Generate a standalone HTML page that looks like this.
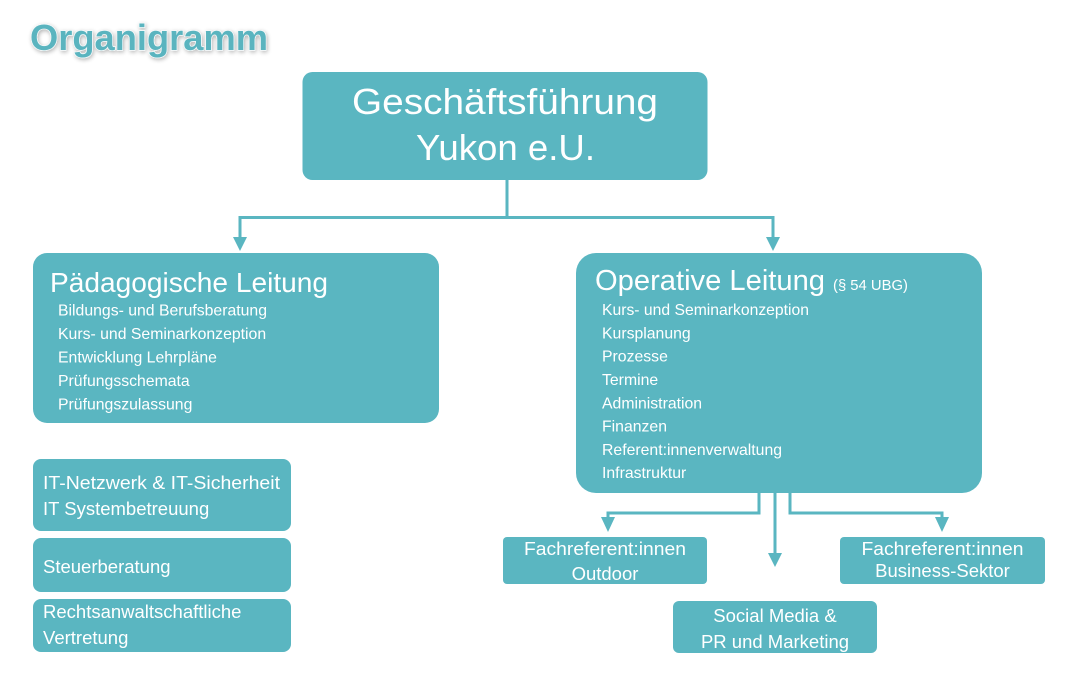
<!DOCTYPE html>
<html>
<head>
<meta charset="utf-8">
<style>
  html, body { margin: 0; padding: 0; background: #ffffff; }
  body { width: 1068px; height: 674px; overflow: hidden; }
  svg { display: block; }
  text { font-family: "Liberation Sans", "DejaVu Sans", sans-serif; }
</style>
</head>
<body>
<svg width="1068" height="674" viewBox="0 0 1068 674" xmlns="http://www.w3.org/2000/svg">
  <defs>
    <filter id="glow" x="-10%" y="-30%" width="120%" height="160%">
      <feGaussianBlur in="SourceAlpha" stdDeviation="2" result="b"/>
      <feOffset dx="1" dy="1.5" result="o"/>
      <feComponentTransfer in="o" result="s"><feFuncA type="linear" slope="0.3"/></feComponentTransfer>
      <feMerge><feMergeNode in="s"/><feMergeNode in="SourceGraphic"/></feMerge>
    </filter>
  </defs>

  <!-- Title -->
  <text x="30" y="50" font-size="36" font-weight="bold" fill="#5ab4bf" stroke="#f2f8f9" stroke-width="1.4" paint-order="stroke" filter="url(#glow)" textLength="238" lengthAdjust="spacingAndGlyphs">Organigramm</text>

  <g fill="#5ab6c1">
    <!-- Top box -->
    <rect x="302.5" y="72" width="405" height="108" rx="10" ry="10"/>
    <!-- Pädagogische -->
    <rect x="33" y="253" width="406" height="170" rx="14" ry="14"/>
    <!-- Operative -->
    <rect x="576" y="253" width="406" height="240" rx="20" ry="20"/>
    <!-- Left small boxes -->
    <rect x="33" y="459" width="258" height="72" rx="8" ry="8"/>
    <rect x="33" y="538" width="258" height="54" rx="8" ry="8"/>
    <rect x="33" y="599" width="258" height="53" rx="8" ry="8"/>
    <!-- Bottom boxes -->
    <rect x="503" y="537" width="204" height="47" rx="4" ry="4"/>
    <rect x="840" y="537" width="205" height="47" rx="4" ry="4"/>
    <rect x="673" y="601" width="204" height="52" rx="6" ry="6"/>
  </g>

  <!-- Connectors -->
  <g fill="none" stroke="#5ab6c1" stroke-width="3" stroke-linejoin="miter">
    <path d="M507 180 V217.5"/>
    <path d="M240 238 V217.5 H773 V238"/>
    <path d="M759 493 V513 H608 V519"/>
    <path d="M790 493 V513 H942 V519"/>
    <path d="M775 493 V554"/>
  </g>
  <g fill="#5ab6c1">
    <polygon points="233,237 247,237 240,251"/>
    <polygon points="766,237 780,237 773,251"/>
    <polygon points="601,517 615,517 608,532"/>
    <polygon points="935,517 949,517 942,532"/>
    <polygon points="768,553 782,553 775,567"/>
  </g>

  <g fill="#ffffff">
    <!-- Top box text -->
    <text x="505" y="114" font-size="36" text-anchor="middle" textLength="306" lengthAdjust="spacingAndGlyphs">Geschäftsführung</text>
    <text x="505.5" y="160" font-size="36" text-anchor="middle" textLength="179" lengthAdjust="spacingAndGlyphs">Yukon e.U.</text>

    <!-- Pädagogische Leitung -->
    <text x="50" y="292" font-size="28" textLength="278" lengthAdjust="spacingAndGlyphs">Pädagogische Leitung</text>
    <g font-size="15.8">
      <text x="58" y="315.5" textLength="209" lengthAdjust="spacingAndGlyphs">Bildungs- und Berufsberatung</text>
      <text x="58" y="339">Kurs- und Seminarkonzeption</text>
      <text x="58" y="362.5">Entwicklung Lehrpläne</text>
      <text x="58" y="386">Prüfungsschemata</text>
      <text x="58" y="409.5">Prüfungszulassung</text>
    </g>

    <!-- Operative Leitung -->
    <text x="595" y="290" font-size="28.5" textLength="230" lengthAdjust="spacingAndGlyphs">Operative Leitung</text>
    <text x="833" y="290" font-size="14.8" textLength="75" lengthAdjust="spacingAndGlyphs">(§ 54 UBG)</text>
    <g font-size="15.8">
      <text x="602" y="315" textLength="207" lengthAdjust="spacingAndGlyphs">Kurs- und Seminarkonzeption</text>
      <text x="602" y="338.3">Kursplanung</text>
      <text x="602" y="361.6">Prozesse</text>
      <text x="602" y="385">Termine</text>
      <text x="602" y="408.3">Administration</text>
      <text x="602" y="431.6">Finanzen</text>
      <text x="602" y="455">Referent:innenverwaltung</text>
      <text x="602" y="478">Infrastruktur</text>
    </g>

    <!-- Left small boxes -->
    <g font-size="18.5">
      <text x="43" y="489" textLength="237" lengthAdjust="spacingAndGlyphs">IT-Netzwerk &amp; IT-Sicherheit</text>
      <text x="43" y="515">IT Systembetreuung</text>
      <text x="43" y="573">Steuerberatung</text>
      <text x="43" y="618">Rechtsanwaltschaftliche</text>
      <text x="43" y="644">Vertretung</text>
    </g>

    <!-- Bottom boxes -->
    <g font-size="18.5" text-anchor="middle">
      <text x="605" y="555" textLength="162" lengthAdjust="spacingAndGlyphs">Fachreferent:innen</text>
      <text x="605" y="580">Outdoor</text>
      <text x="942.5" y="555" textLength="162" lengthAdjust="spacingAndGlyphs">Fachreferent:innen</text>
      <text x="942.5" y="577">Business-Sektor</text>
      <text x="775" y="622">Social Media &amp;</text>
      <text x="775" y="648">PR und Marketing</text>
    </g>
  </g>
</svg>
</body>
</html>
